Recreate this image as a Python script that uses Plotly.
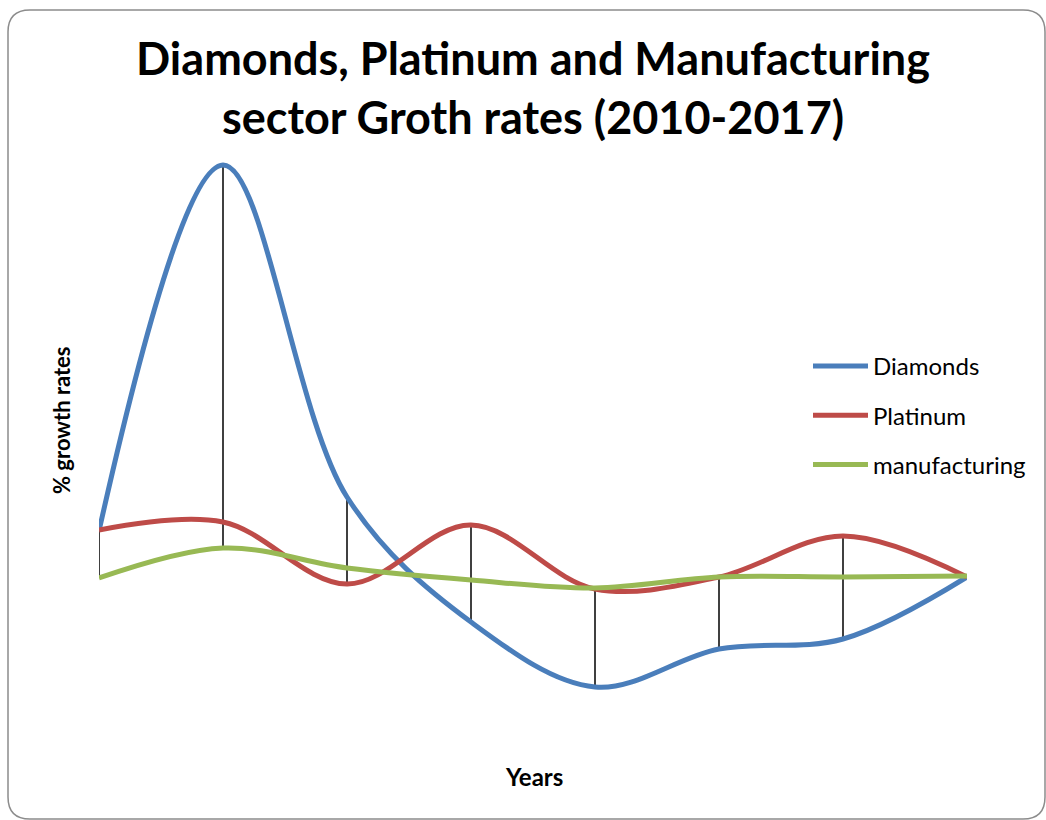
import plotly.graph_objects as go

years = ["2010", "2011", "2012", "2013", "2014", "2015", "2016", "2017"]
diamonds = [4.6, 41.2, 8.0, -4.5, -11.0, -7.2, -6.2, 0.0]
platinum = [4.7, 5.5, -0.7, 5.2, -1.2, 0.0, 4.1, 0.0]
manufacturing = [-0.1, 2.9, 0.9, -0.3, -1.1, 0.0, 0.0, 0.1]

W, H = 1046, 820
L, R, T, B = 99, 79, 150, 80
pw, ph = W - L - R, H - T - B

def px(x):
    return (x - L) / pw

def py(y):
    return (H - B - y) / ph

fig = go.Figure()

xi = list(range(len(years)))
# high-low lines
hx, hy = [], []
for i in xi:
    vals = [diamonds[i], platinum[i], manufacturing[i]]
    hx += [i, i, None]
    hy += [max(vals), min(vals), None]
fig.add_trace(go.Scatter(x=hx, y=hy, mode="lines", line=dict(color="black", width=1.5),
                         showlegend=False, hoverinfo="skip"))

series = [("Diamonds", diamonds, "#4A7EBB"), ("Platinum", platinum, "#BE4B48"),
          ("manufacturing", manufacturing, "#98B954")]
for name, vals, col in series:
    fig.add_trace(go.Scatter(x=xi, y=vals, name=name, mode="lines",
                             line=dict(color=col, width=5, shape="spline", smoothing=1.0),
                             legendgroup=name))

r = 22
x0, y0, x1, y1 = 8, 10, 1045, 819
path = (f"M {px(x0 + r)},{py(y0)} L {px(x1 - r)},{py(y0)} "
        f"Q {px(x1)},{py(y0)} {px(x1)},{py(y0 + r)} L {px(x1)},{py(y1 - r)} "
        f"Q {px(x1)},{py(y1)} {px(x1 - r)},{py(y1)} L {px(x0 + r)},{py(y1)} "
        f"Q {px(x0)},{py(y1)} {px(x0)},{py(y1 - r)} L {px(x0)},{py(y0 + r)} "
        f"Q {px(x0)},{py(y0)} {px(x0 + r)},{py(y0)} Z")

fig.update_layout(
    width=W, height=H, autosize=False,
    margin=dict(l=L, r=R, t=T, b=B),
    paper_bgcolor="white", plot_bgcolor="white",
    font=dict(family="Lato, Open Sans, sans-serif", color="black"),
    title=dict(text="<b>Diamonds, Platinum and Manufacturing<br>sector Groth rates (2010-2017)</b>",
               x=533 / W, xanchor="center", y=1 - 75 / H, yanchor="middle",
               font=dict(size=45, family="Lato, sans-serif", color="black")),
    xaxis=dict(range=[0, 7], showgrid=False, zeroline=False, showticklabels=False,
               showline=False, ticks=""),
    yaxis=dict(range=[(577 - (H - B)) / 10, (577 - T) / 10], showgrid=False, zeroline=False,
               showticklabels=False, showline=False, ticks=""),
    legend=dict(x=px(808), y=py(344), xanchor="left", yanchor="top",
                font=dict(size=24), tracegroupgap=15, traceorder="grouped",
                itemwidth=55, bgcolor="rgba(0,0,0,0)"),
    annotations=[
        dict(text="<b>Years</b>", x=px(534), y=py(776), xref="paper", yref="paper",
             xanchor="center", yanchor="middle", showarrow=False, font=dict(size=24)),
        dict(text="<b>% growth rates</b>", x=px(61), y=py(420), xref="paper", yref="paper",
             xanchor="center", yanchor="middle", showarrow=False, textangle=-90,
             font=dict(size=22)),
    ],
    shapes=[dict(type="path", path=path, xref="paper", yref="paper",
                 line=dict(color="#8c8c8c", width=1.5), layer="below")],
)

fig.write_html("out.html")
